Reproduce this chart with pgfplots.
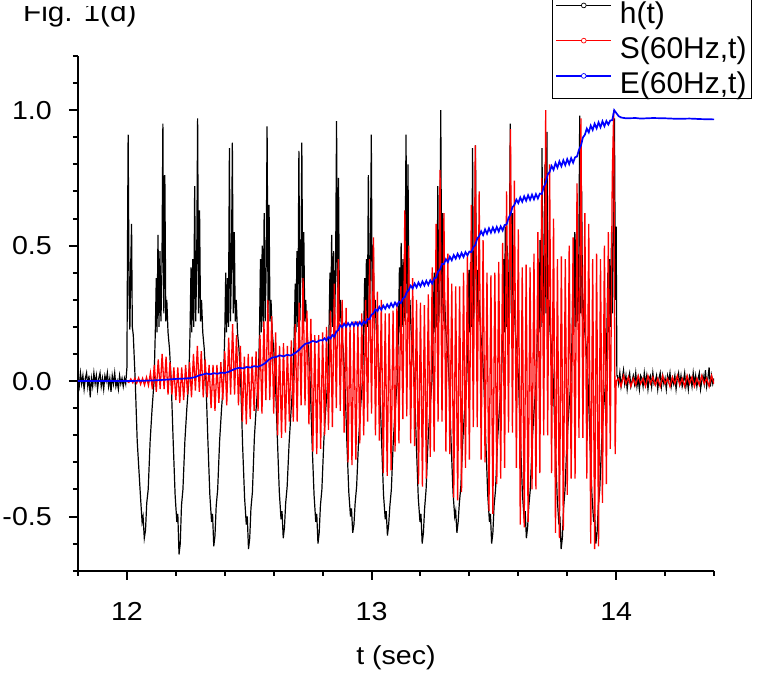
\documentclass[border=0pt]{standalone}
\usepackage{pgfplots}
\pgfplotsset{compat=1.18}
\usepackage{fontspec}
\setmainfont{Liberation Sans}
\newcommand\tickfont{\fontsize{26}{30}\selectfont}
\newcommand\legfont{\fontsize{30}{32}\selectfont}
\begin{document}
\begin{tikzpicture}
\begin{axis}[
  at={(0pt,0pt)}, anchor=south west,
  scale only axis, width=636pt, height=514.7pt,
  xmin=11.8, xmax=14.4, ymin=-0.7, ymax=1.2,
  axis x line*=bottom, axis y line*=left,
  axis line style={-, line width=2pt, black},
  xtick={12,13,14}, xticklabels={12,13,14},
  ytick={-0.5,0,0.5,1}, yticklabels={-0.5,0.0,0.5,1.0},
  minor xtick={11.8,12.2,12.4,12.6,12.8,13.2,13.4,13.6,13.8,14.2,14.4},
  minor ytick={-0.7,-0.6,-0.4,-0.3,-0.2,-0.1,0.1,0.2,0.3,0.4,0.6,0.7,0.8,0.9,1.1,1.2},
  tick align=outside,
  major tick length=9pt, minor tick length=5pt,
  tick style={line width=2pt, black},
  ticklabel style={font=\tickfont, inner sep=0pt},
  xticklabel style={anchor=base, yshift=-40.8pt, xscale=1.1},
  yticklabel style={anchor=east, xshift=-17pt, xscale=1.1},
  xlabel={t (sec)},
  xlabel style={font=\tickfont, at={(axis description cs:0.5,0)}, anchor=base, yshift=-93.3pt, inner sep=0pt, xscale=1.1},
  legend style={at={(axis description cs:0.7453,0.9165)}, anchor=south west,
    draw=black, line width=1.3pt, inner xsep=3pt, inner ysep=1pt,
    row sep=8pt, font=\legfont, nodes={inner sep=2pt},
    /tikz/every odd column/.append style={column sep=6pt}},
  legend cell align=left,
  legend image code/.code={
    \draw[#1, line width=1.2pt] (0pt,7.8pt) -- (55pt,7.8pt);
    \draw[#1, line width=0.7pt, fill=white] (27.5pt,7.8pt) circle (2.4pt);
  },
]
% h(t)
\addplot[black, line width=1.2pt] coordinates {
(11.800,0.01) (11.805,-0.02) (11.810,0.03) (11.815,-0.01) (11.820,0.02) (11.825,-0.03) (11.830,0.01) (11.835,0.03) (11.840,-0.02) (11.845,0.02)
(11.850,-0.06) (11.855,0.01) (11.860,-0.02) (11.865,0.03) (11.870,-0.01) (11.875,0.02) (11.880,-0.03) (11.885,0.01) (11.890,0.03) (11.895,-0.02)
(11.900,0.01) (11.905,-0.03) (11.910,0.02) (11.915,0.00) (11.920,0.03) (11.925,-0.02) (11.930,0.01) (11.935,-0.04) (11.940,0.02) (11.945,-0.01)
(11.950,0.03) (11.955,-0.02) (11.960,0.00) (11.965,-0.03) (11.970,0.02) (11.975,-0.01) (11.980,0.01) (11.985,-0.02) (11.990,0.01) (11.995,-0.01)
(12.000,0.05) (12.003,0.60) (12.005,0.91) (12.009,0.30) (12.012,0.19) (12.016,0.45) (12.019,0.58) (12.022,0.20) (12.026,0.17) (12.034,0.00)
(12.042,-0.22) (12.055,-0.42) (12.062,-0.52) (12.066,-0.50) (12.071,-0.58) (12.076,-0.55) (12.081,-0.45) (12.087,-0.40) (12.095,-0.22) (12.103,-0.10)
(12.111,0.00) (12.116,0.18) (12.120,0.38) (12.123,0.18) (12.127,0.54) (12.131,0.20) (12.135,0.48) (12.139,0.22) (12.143,0.40) (12.147,0.95) (12.151,0.25) (12.155,0.76) (12.159,0.22) (12.163,0.30) (12.168,0.18) (12.174,0.12) (12.181,0.00) (12.189,-0.22) (12.197,-0.42) (12.204,-0.52) (12.208,-0.49) (12.213,-0.64) (12.218,-0.60) (12.223,-0.46) (12.229,-0.40) (12.237,-0.22) (12.245,-0.10)
(12.253,0.00) (12.258,0.18) (12.262,0.42) (12.265,0.18) (12.269,0.45) (12.273,0.20) (12.277,0.72) (12.281,0.22) (12.285,0.40) (12.289,0.97) (12.293,0.25) (12.297,0.63) (12.301,0.22) (12.305,0.30) (12.310,0.18) (12.316,0.12) (12.323,0.00) (12.331,-0.22) (12.339,-0.42) (12.346,-0.52) (12.350,-0.49) (12.355,-0.61) (12.360,-0.57) (12.365,-0.46) (12.371,-0.40) (12.379,-0.22) (12.387,-0.10)
(12.395,0.00) (12.400,0.18) (12.404,0.40) (12.407,0.18) (12.411,0.38) (12.415,0.20) (12.419,0.86) (12.423,0.22) (12.427,0.40) (12.431,0.88) (12.435,0.25) (12.439,0.55) (12.443,0.22) (12.447,0.30) (12.452,0.18) (12.458,0.12) (12.465,0.00) (12.473,-0.24) (12.481,-0.43) (12.488,-0.53) (12.492,-0.50) (12.497,-0.62) (12.502,-0.58) (12.507,-0.47) (12.513,-0.41) (12.521,-0.21) (12.529,-0.09)
(12.537,0.00) (12.542,0.18) (12.546,0.45) (12.549,0.18) (12.553,0.50) (12.557,0.20) (12.561,0.62) (12.565,0.22) (12.569,0.40) (12.573,0.94) (12.577,0.25) (12.581,0.65) (12.585,0.22) (12.589,0.30) (12.594,0.18) (12.600,0.12) (12.607,0.00) (12.615,-0.21) (12.623,-0.41) (12.630,-0.51) (12.634,-0.48) (12.639,-0.58) (12.644,-0.54) (12.649,-0.45) (12.655,-0.39) (12.663,-0.23) (12.671,-0.11)
(12.679,0.00) (12.684,0.18) (12.688,0.36) (12.691,0.18) (12.695,0.48) (12.699,0.20) (12.703,0.85) (12.707,0.22) (12.711,0.40) (12.715,0.88) (12.719,0.25) (12.723,0.55) (12.727,0.22) (12.731,0.30) (12.736,0.18) (12.742,0.12) (12.749,0.00) (12.757,-0.23) (12.765,-0.42) (12.772,-0.52) (12.776,-0.49) (12.781,-0.60) (12.786,-0.56) (12.791,-0.46) (12.797,-0.40) (12.805,-0.22) (12.813,-0.10)
(12.821,0.00) (12.826,0.18) (12.830,0.40) (12.833,0.18) (12.837,0.54) (12.841,0.20) (12.845,0.48) (12.849,0.22) (12.853,0.40) (12.857,0.96) (12.861,0.25) (12.865,0.75) (12.869,0.22) (12.873,0.30) (12.878,0.18) (12.884,0.12) (12.891,0.00) (12.899,-0.22) (12.907,-0.41) (12.914,-0.50) (12.918,-0.47) (12.923,-0.56) (12.928,-0.53) (12.933,-0.45) (12.939,-0.39) (12.947,-0.22) (12.955,-0.10)
(12.963,0.00) (12.968,0.18) (12.972,0.38) (12.975,0.18) (12.979,0.45) (12.983,0.20) (12.987,0.76) (12.991,0.22) (12.995,0.40) (12.999,0.91) (13.003,0.25) (13.007,0.50) (13.011,0.22) (13.015,0.30) (13.020,0.18) (13.026,0.12) (13.033,0.00) (13.041,-0.22) (13.049,-0.42) (13.056,-0.51) (13.060,-0.48) (13.065,-0.57) (13.070,-0.53) (13.075,-0.46) (13.081,-0.40) (13.089,-0.22) (13.097,-0.10)
(13.105,0.00) (13.110,0.18) (13.114,0.42) (13.117,0.18) (13.121,0.51) (13.125,0.20) (13.129,0.45) (13.133,0.22) (13.137,0.40) (13.141,0.91) (13.145,0.25) (13.149,0.80) (13.153,0.22) (13.157,0.30) (13.162,0.18) (13.168,0.12) (13.175,0.00) (13.183,-0.23) (13.191,-0.43) (13.198,-0.52) (13.202,-0.49) (13.207,-0.60) (13.212,-0.56) (13.217,-0.47) (13.223,-0.40) (13.231,-0.22) (13.239,-0.10)
(13.247,0.00) (13.252,0.18) (13.256,0.40) (13.259,0.18) (13.263,0.46) (13.267,0.20) (13.271,0.72) (13.275,0.22) (13.279,0.40) (13.283,1.00) (13.287,0.25) (13.291,0.62) (13.295,0.22) (13.299,0.30) (13.304,0.18) (13.310,0.12) (13.317,0.00) (13.325,-0.22) (13.333,-0.41) (13.340,-0.50) (13.344,-0.48) (13.349,-0.56) (13.354,-0.52) (13.359,-0.45) (13.365,-0.39) (13.373,-0.22) (13.381,-0.10)
(13.389,0.00) (13.394,0.18) (13.398,0.41) (13.401,0.18) (13.405,0.44) (13.409,0.20) (13.413,0.86) (13.417,0.22) (13.421,0.40) (13.425,0.87) (13.429,0.25) (13.433,0.41) (13.437,0.22) (13.441,0.30) (13.446,0.18) (13.452,0.12) (13.459,0.00) (13.467,-0.22) (13.475,-0.42) (13.482,-0.52) (13.486,-0.49) (13.491,-0.60) (13.496,-0.56) (13.501,-0.46) (13.507,-0.40) (13.515,-0.22) (13.523,-0.10)
(13.531,0.00) (13.536,0.18) (13.540,0.45) (13.543,0.18) (13.547,0.57) (13.551,0.20) (13.555,0.50) (13.559,0.22) (13.563,0.40) (13.567,0.95) (13.571,0.25) (13.575,0.62) (13.579,0.22) (13.583,0.30) (13.588,0.18) (13.594,0.12) (13.601,0.00) (13.609,-0.22) (13.617,-0.42) (13.624,-0.51) (13.628,-0.48) (13.633,-0.58) (13.638,-0.54) (13.643,-0.46) (13.649,-0.40) (13.657,-0.22) (13.665,-0.10)
(13.673,0.00) (13.678,0.18) (13.682,0.40) (13.685,0.18) (13.689,0.52) (13.693,0.20) (13.697,0.86) (13.701,0.22) (13.705,0.40) (13.709,0.80) (13.713,0.25) (13.717,0.92) (13.721,0.22) (13.725,0.30) (13.730,0.18) (13.736,0.12) (13.743,0.00) (13.751,-0.23) (13.759,-0.43) (13.766,-0.53) (13.770,-0.50) (13.775,-0.62) (13.780,-0.58) (13.785,-0.47) (13.791,-0.40) (13.799,-0.22) (13.807,-0.10)
(13.815,0.00) (13.820,0.18) (13.824,0.42) (13.827,0.18) (13.831,0.55) (13.835,0.20) (13.839,0.62) (13.843,0.22) (13.847,0.40) (13.851,0.98) (13.855,0.25) (13.859,0.70) (13.863,0.22) (13.867,0.30) (13.872,0.18) (13.878,0.12) (13.885,0.00) (13.893,-0.22) (13.901,-0.42) (13.908,-0.52) (13.912,-0.49) (13.917,-0.60) (13.922,-0.56) (13.927,-0.46) (13.933,-0.40) (13.941,-0.22) (13.949,-0.10)
(13.957,0.00) (13.962,0.18) (13.966,0.40) (13.969,0.18) (13.973,0.45) (13.977,0.20) (13.981,0.55) (13.985,0.25) (13.989,0.62) (13.993,0.97) (13.997,0.30) (14.000,0.57) (14.003,0.02)
(14.005,0.02) (14.010,-0.01) (14.015,0.03) (14.020,-0.02) (14.025,0.01) (14.030,0.04) (14.035,-0.01) (14.040,0.02) (14.045,-0.03) (14.050,0.01)
(14.055,0.03) (14.060,-0.02) (14.065,0.00) (14.070,0.02) (14.075,-0.01) (14.080,0.03) (14.085,-0.02) (14.090,0.01) (14.095,-0.03) (14.100,0.02)
(14.105,0.01) (14.110,-0.02) (14.115,0.03) (14.120,-0.01) (14.125,0.02) (14.130,-0.03) (14.135,0.01) (14.140,0.02) (14.145,-0.02) (14.150,0.03)
(14.155,-0.01) (14.160,0.00) (14.165,0.02) (14.170,-0.03) (14.175,0.01) (14.180,0.03) (14.185,-0.02) (14.190,0.02) (14.195,-0.01) (14.200,0.01)
(14.205,-0.03) (14.210,0.02) (14.215,0.00) (14.220,0.03) (14.225,-0.02) (14.230,0.01) (14.235,-0.01) (14.240,0.02) (14.245,-0.03) (14.250,0.01)
(14.255,0.03) (14.260,-0.01) (14.265,0.02) (14.270,-0.02) (14.275,0.00) (14.280,0.03) (14.285,-0.02) (14.290,0.01) (14.295,-0.03) (14.300,0.02)
(14.305,0.01) (14.310,-0.02) (14.315,0.03) (14.320,-0.01) (14.325,0.02) (14.330,-0.02) (14.335,0.01) (14.340,0.03) (14.345,-0.03) (14.350,0.00)
(14.355,0.02) (14.360,-0.01) (14.365,0.04) (14.370,-0.02) (14.375,0.01) (14.380,0.05) (14.385,-0.02) (14.390,0.02) (14.395,-0.01) (14.400,0.01)
};
\addlegendentry{h(t)}
% S(60Hz,t)
\addplot[red, line width=1.3pt] coordinates {
(11.800,0.00) (12.000,0.00) (12.008,-0.005) (12.016,0.008) (12.024,-0.006) (12.032,0.01) (12.040,-0.008) (12.048,0.012) (12.056,-0.012) (12.064,0.01) (12.072,-0.015)
(12.080,0.014) (12.088,-0.016) (12.096,0.03) (12.104,-0.03) (12.112,0.06) (12.120,-0.04) (12.128,0.08) (12.136,-0.03) (12.144,0.10) (12.152,-0.03)
(12.160,0.09) (12.168,-0.05) (12.176,0.07) (12.184,-0.05) (12.192,0.05) (12.200,-0.07) (12.208,0.05) (12.216,-0.08) (12.224,0.05) (12.232,-0.07)
(12.240,0.06) (12.248,-0.05) (12.256,0.07) (12.264,-0.06) (12.272,0.10) (12.280,-0.035) (12.288,0.13) (12.296,-0.04) (12.304,0.11) (12.312,-0.06)
(12.320,0.08) (12.328,-0.06) (12.336,0.06) (12.344,-0.10) (12.352,0.06) (12.360,-0.11) (12.368,0.06) (12.376,-0.08) (12.384,0.07) (12.392,-0.07)
(12.400,0.11) (12.408,-0.09) (12.416,0.16) (12.424,-0.05) (12.432,0.21) (12.440,-0.05) (12.448,0.17) (12.456,-0.09) (12.464,0.13) (12.472,-0.15)
(12.480,0.09) (12.488,-0.16) (12.496,0.10) (12.504,-0.14) (12.512,0.09) (12.520,-0.11) (12.528,0.11) (12.536,-0.11) (12.544,0.17) (12.552,-0.12)
(12.560,0.22) (12.568,-0.07) (12.576,0.30) (12.584,-0.07) (12.592,0.24) (12.600,-0.12) (12.608,0.18) (12.616,-0.20) (12.624,0.13) (12.632,-0.21)
(12.640,0.14) (12.648,-0.19) (12.656,0.13) (12.664,-0.15) (12.672,0.15) (12.680,-0.15) (12.688,0.21) (12.696,-0.15) (12.704,0.29) (12.712,-0.09)
(12.720,0.38) (12.728,-0.09) (12.736,0.26) (12.744,-0.16) (12.752,0.23) (12.760,-0.26) (12.768,0.17) (12.776,-0.27) (12.784,0.17) (12.792,-0.25)
(12.800,0.18) (12.808,-0.20) (12.816,0.20) (12.824,-0.18) (12.832,0.26) (12.840,-0.17) (12.848,0.36) (12.856,-0.10) (12.864,0.45) (12.872,-0.11)
(12.880,0.30) (12.888,-0.19) (12.896,0.27) (12.904,-0.30) (12.912,0.21) (12.920,-0.31) (12.928,0.22) (12.936,-0.29) (12.944,0.22) (12.952,-0.23)
(12.960,0.25) (12.968,-0.20) (12.976,0.30) (12.984,-0.15) (12.992,0.45) (13.000,-0.12) (13.008,0.53) (13.016,-0.20) (13.024,0.33) (13.032,-0.22)
(13.040,0.30) (13.048,-0.34) (13.056,0.25) (13.064,-0.35) (13.072,0.25) (13.080,-0.33) (13.088,0.26) (13.096,-0.26) (13.104,0.29) (13.112,-0.23)
(13.120,0.35) (13.128,-0.14) (13.136,0.63) (13.144,-0.13) (13.152,0.50) (13.160,-0.23) (13.168,0.38) (13.176,-0.24) (13.184,0.30) (13.192,-0.38)
(13.200,0.29) (13.208,-0.39) (13.216,0.28) (13.224,-0.36) (13.232,0.32) (13.240,-0.28) (13.248,0.42) (13.256,-0.26) (13.264,0.58) (13.272,-0.15)
(13.280,0.78) (13.288,-0.15) (13.296,0.62) (13.304,-0.26) (13.312,0.47) (13.320,-0.27) (13.328,0.36) (13.336,-0.43) (13.344,0.35) (13.352,-0.44)
(13.360,0.35) (13.368,-0.41) (13.376,0.40) (13.384,-0.32) (13.392,0.47) (13.400,-0.29) (13.408,0.65) (13.416,-0.17) (13.424,0.87) (13.432,-0.17)
(13.440,0.70) (13.448,-0.29) (13.456,0.52) (13.464,-0.30) (13.472,0.40) (13.480,-0.48) (13.488,0.39) (13.496,-0.49) (13.504,0.40) (13.512,-0.38)
(13.520,0.44) (13.528,-0.36) (13.536,0.51) (13.544,-0.32) (13.552,0.70) (13.560,-0.19) (13.568,0.93) (13.576,-0.19) (13.584,0.74) (13.592,-0.32)
(13.600,0.56) (13.608,-0.53) (13.616,0.42) (13.624,-0.54) (13.632,0.43) (13.640,-0.52) (13.648,0.42) (13.656,-0.40) (13.664,0.47) (13.672,-0.40)
(13.680,0.55) (13.688,-0.34) (13.696,0.75) (13.704,-0.20) (13.712,1.00) (13.720,-0.20) (13.728,0.80) (13.736,-0.34) (13.744,0.60) (13.752,-0.56)
(13.760,0.45) (13.768,-0.58) (13.776,0.46) (13.784,-0.55) (13.792,0.45) (13.800,-0.42) (13.808,0.50) (13.816,-0.36) (13.824,0.53) (13.832,-0.36)
(13.840,0.73) (13.848,-0.21) (13.856,0.97) (13.864,-0.21) (13.872,0.62) (13.880,-0.36) (13.888,0.58) (13.896,-0.60) (13.904,0.45) (13.912,-0.62)
(13.920,0.47) (13.928,-0.61) (13.936,0.45) (13.944,-0.45) (13.952,0.50) (13.960,-0.38) (13.968,0.55) (13.976,-0.25) (13.984,0.75) (13.990,1.00)
(13.996,-0.27) (14.000,0.00)
(14.010,0.01) (14.020,-0.02) (14.030,0.02) (14.040,-0.01) (14.050,0.015) (14.060,-0.02) (14.070,0.01) (14.080,-0.015) (14.090,0.02) (14.100,-0.01)
(14.110,0.01) (14.120,-0.02) (14.130,0.02) (14.140,-0.01) (14.150,0.015) (14.160,-0.015) (14.170,0.01) (14.180,-0.02) (14.190,0.02) (14.200,-0.01)
(14.210,0.01) (14.220,-0.02) (14.230,0.015) (14.240,-0.01) (14.250,0.02) (14.260,-0.015) (14.270,0.01) (14.280,-0.02) (14.290,0.02) (14.300,-0.01)
(14.310,0.015) (14.320,-0.02) (14.330,0.01) (14.340,-0.015) (14.350,0.02) (14.360,-0.01) (14.370,0.01) (14.380,-0.02) (14.390,0.02) (14.400,-0.01)
};
\addlegendentry{S(60Hz,t)}
% E(60Hz,t)
\addplot[blue, line width=1.7pt] coordinates {
(11.800,0.000) (12.000,0.000) (12.050,0.001) (12.100,0.002) (12.140,0.004) (12.170,0.006) (12.200,0.008) (12.230,0.009) (12.260,0.011) (12.280,0.015)
(12.295,0.021) (12.310,0.024) (12.325,0.028) (12.340,0.025) (12.355,0.029) (12.370,0.027) (12.385,0.031) (12.400,0.030) (12.415,0.034) (12.430,0.040)
(12.445,0.046) (12.460,0.049) (12.475,0.047) (12.490,0.052) (12.505,0.050) (12.520,0.055) (12.535,0.053) (12.550,0.058) (12.565,0.066) (12.580,0.079)
(12.595,0.087) (12.610,0.089) (12.625,0.095) (12.640,0.091) (12.655,0.097) (12.670,0.094) (12.685,0.102) (12.700,0.112) (12.715,0.126) (12.730,0.138)
(12.745,0.141) (12.760,0.148) (12.775,0.144) (12.790,0.151)
(12.800,0.150) (12.808,0.158) (12.816,0.150) (12.824,0.163) (12.832,0.157) (12.840,0.170) (12.848,0.164) (12.856,0.182) (12.864,0.188) (12.872,0.206)
(12.880,0.199) (12.888,0.212) (12.896,0.201) (12.904,0.214) (12.912,0.203) (12.920,0.216) (12.928,0.204) (12.936,0.217) (12.944,0.205) (12.952,0.218)
(12.960,0.206) (12.968,0.220) (12.976,0.214) (12.984,0.229) (12.992,0.228) (13.000,0.246) (13.008,0.249) (13.016,0.265) (13.024,0.258) (13.032,0.274)
(13.040,0.263) (13.048,0.279) (13.056,0.267) (13.064,0.283) (13.072,0.271) (13.080,0.287) (13.088,0.274) (13.096,0.290) (13.104,0.278) (13.112,0.293)
(13.120,0.288) (13.128,0.304) (13.136,0.310) (13.144,0.328) (13.152,0.336) (13.160,0.352) (13.168,0.342) (13.176,0.360) (13.184,0.346) (13.192,0.364)
(13.200,0.350) (13.208,0.368) (13.216,0.353) (13.224,0.370) (13.232,0.355) (13.240,0.372) (13.248,0.360) (13.256,0.378) (13.264,0.382) (13.272,0.404)
(13.280,0.412) (13.288,0.432) (13.296,0.432) (13.304,0.450) (13.312,0.439) (13.320,0.459) (13.328,0.446) (13.336,0.465) (13.344,0.452) (13.352,0.470)
(13.360,0.455) (13.368,0.473) (13.376,0.458) (13.384,0.476) (13.392,0.464) (13.400,0.478) (13.408,0.476) (13.416,0.494) (13.424,0.502) (13.432,0.526)
(13.440,0.535) (13.448,0.553) (13.456,0.539) (13.464,0.560) (13.472,0.544) (13.480,0.564) (13.488,0.548) (13.496,0.567) (13.504,0.550) (13.512,0.569)
(13.520,0.552) (13.528,0.571) (13.536,0.556) (13.544,0.576) (13.552,0.578) (13.560,0.602) (13.568,0.615) (13.576,0.642) (13.584,0.650) (13.592,0.670)
(13.600,0.657) (13.608,0.678) (13.616,0.662) (13.624,0.682) (13.632,0.666) (13.640,0.686) (13.648,0.669) (13.656,0.688) (13.664,0.671) (13.672,0.690)
(13.680,0.674) (13.688,0.692) (13.696,0.691) (13.704,0.716) (13.712,0.732) (13.720,0.762) (13.728,0.772) (13.736,0.794) (13.744,0.780) (13.752,0.805)
(13.760,0.788) (13.768,0.811) (13.776,0.793) (13.784,0.815) (13.792,0.797) (13.800,0.819) (13.808,0.801) (13.816,0.823) (13.824,0.806) (13.832,0.826)
(13.840,0.829) (13.848,0.854) (13.856,0.869) (13.864,0.899) (13.872,0.909) (13.880,0.932) (13.888,0.918) (13.896,0.943) (13.904,0.927) (13.912,0.950)
(13.920,0.933) (13.928,0.955) (13.936,0.937) (13.944,0.959) (13.952,0.941) (13.960,0.960) (13.968,0.947) (13.976,0.962) (13.984,0.963) (13.992,1.000)
(14.000,0.990) (14.010,0.978) (14.020,0.973) (14.040,0.970) (14.080,0.971) (14.100,0.969) (14.150,0.971) (14.200,0.970) (14.250,0.968) (14.300,0.969)
(14.350,0.967) (14.400,0.966)
};
\addlegendentry{E(60Hz,t)}
\end{axis}
\node[anchor=base west, font=\fontsize{27}{30}\selectfont, inner sep=0pt, xscale=1.1] at (-55pt,549pt) {Fig. 1(d)};
\fill[white] (-78pt,564.2pt) rectangle (150pt,572pt);
\pgfresetboundingbox
\useasboundingbox (-78pt,-106.3pt) rectangle (684pt,570.7pt);
\end{tikzpicture}
\end{document}
